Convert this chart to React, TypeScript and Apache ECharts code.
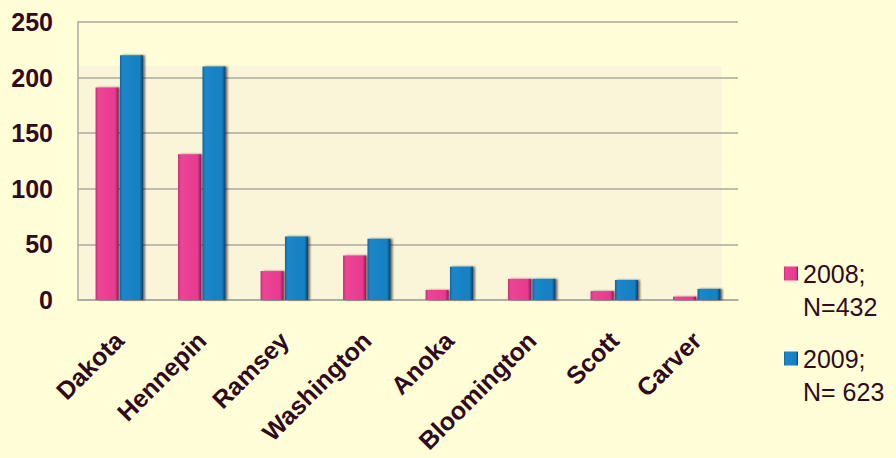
import React, { useEffect, useRef } from "react";
import * as echarts from "echarts";

const categories = ["Dakota", "Hennepin", "Ramsey", "Washington", "Anoka", "Bloomington", "Scott", "Carver"];
const values2008 = [191, 131, 26, 40, 9, 19, 8, 3];
const values2009 = [220, 210, 57, 55, 30, 19, 18, 10];
const seriesNames = ["2008;\nN=432", "2009;\nN= 623"];
const yTicks = { min: 0, max: 250, interval: 50 };

const TEXT = "#300a20";

const pinkFill = new echarts.graphic.LinearGradient(0, 0, 1, 0, [
  { offset: 0, color: "#c92a76" },
  { offset: 0.12, color: "#ec4597" },
  { offset: 0.85, color: "#e83a8f" },
  { offset: 1, color: "#8a1d52" },
]);
const blueFill = new echarts.graphic.LinearGradient(0, 0, 1, 0, [
  { offset: 0, color: "#0d66a2" },
  { offset: 0.12, color: "#1c86c8" },
  { offset: 0.85, color: "#1580c2" },
  { offset: 1, color: "#0a3f68" },
]);

const legendIcon = "path://M0,0h0.01M0,9.5h14v14h-14zM0,66h0.01";

export default function App() {
  const ref = useRef<HTMLDivElement>(null);
  useEffect(() => {
    if (!ref.current) return;
    const chart = echarts.init(ref.current, null, { renderer: "svg" });
    chart.setOption({
      animation: false,
      backgroundColor: "#fffed6",
      textStyle: { fontFamily: "Liberation Sans, Arial, sans-serif" },
      grid: { left: 78, right: 158, top: 22, bottom: 158, containLabel: false, outerBoundsMode: "none" },
      graphic: [
        {
          type: "rect",
          z: -1,
          silent: true,
          shape: { x: 78, y: 66, width: 644, height: 234 },
          style: { fill: "#faf5d9" },
        },
      ],
      legend: {
        orient: "vertical",
        left: 784,
        top: 257,
        padding: 0,
        itemGap: 19,
        itemWidth: 14,
        itemHeight: 66,
        icon: legendIcon,
        itemStyle: { borderWidth: 0, shadowBlur: 0, shadowColor: "transparent", shadowOffsetX: 0, shadowOffsetY: 0 },
        textStyle: {
          fontSize: 25,
          lineHeight: 33,
          color: TEXT,
          fontFamily: "Liberation Sans, Arial, sans-serif",
        },
        data: seriesNames,
      },
      xAxis: {
        type: "category",
        data: categories,
        axisLine: { show: true, lineStyle: { color: "#a9a8a0", width: 1.5 } },
        axisTick: { show: false },
        axisLabel: {
          interval: 0,
          rotate: 45,
          margin: 36,
          fontSize: 25,
          fontWeight: "bold",
          color: TEXT,
          fontFamily: "Liberation Sans, Arial, sans-serif",
        },
      },
      yAxis: {
        type: "value",
        min: yTicks.min,
        max: yTicks.max,
        interval: yTicks.interval,
        axisLine: { show: true, lineStyle: { color: "#a9a8a0", width: 1.5 } },
        axisTick: { show: false },
        splitLine: { show: true, lineStyle: { color: "#a9a8a0", width: 1.5 } },
        axisLabel: {
          margin: 25,
          fontSize: 25,
          fontWeight: "bold",
          color: TEXT,
          padding: [6, 0, 0, 0],
          fontFamily: "Liberation Sans, Arial, sans-serif",
        },
      },
      series: [
        {
          name: seriesNames[0],
          type: "bar",
          data: values2008,
          barWidth: 23,
          barGap: "6%",
          itemStyle: {
            color: pinkFill,
            shadowColor: "rgba(50,0,25,0.55)",
            shadowBlur: 2,
            shadowOffsetX: 2,
            shadowOffsetY: 0,
          },
        },
        {
          name: seriesNames[1],
          type: "bar",
          data: values2009,
          barWidth: 23,
          barGap: "6%",
          itemStyle: {
            color: blueFill,
            shadowColor: "rgba(20,0,20,0.6)",
            shadowBlur: 2,
            shadowOffsetX: 2,
            shadowOffsetY: 0,
          },
        },
      ],
    });
    return () => chart.dispose();
  }, []);
  return (
    <div
      ref={ref}
      style={{ position: "fixed", left: 0, top: 0, width: 896, height: 458 }}
    />
  );
}
